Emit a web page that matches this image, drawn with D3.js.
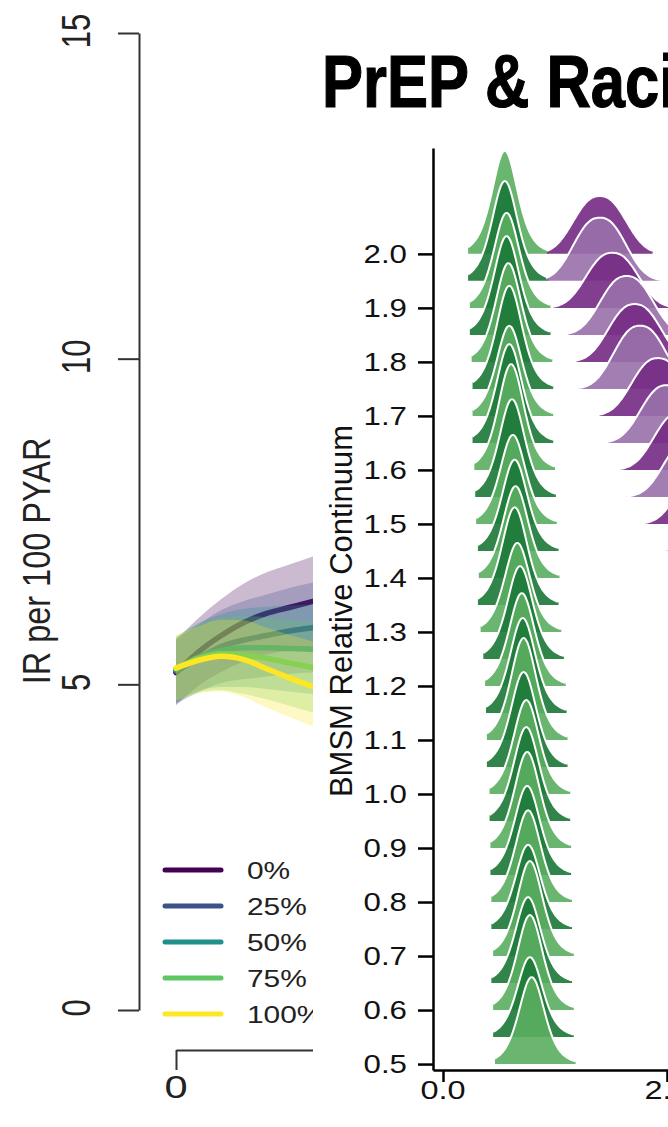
<!DOCTYPE html>
<html><head><meta charset="utf-8">
<script src="https://cdn.jsdelivr.net/npm/d3@7"></script>
<style>
html,body{margin:0;padding:0;background:#fff;}
svg{display:block;}
text{font-family:"Liberation Sans",Arial,Helvetica,sans-serif;}
</style></head>
<body>
<svg id="chart" width="668" height="1127"></svg>
<script>
// ---------- Background chart data (IR per 100 PYAR) ----------
const years = [0, 0.5, 1, 1.5, 2, 2.5, 3, 3.5];
const scenarioLabels = ["0%", "25%", "50%", "75%", "100%"];
const scenarioColors = ["#440154", "#3b528b", "#21908d", "#5dc863", "#fde725"];
const ir0   = [5.18, 5.50, 5.75, 5.95, 6.09, 6.18, 6.27, 6.36];
const ir25  = [5.20, 5.40, 5.58, 5.68, 5.75, 5.82, 5.87, 5.92];
const ir50  = [5.22, 5.42, 5.52, 5.56, 5.56, 5.55, 5.54, 5.53];
const ir75  = [5.24, 5.40, 5.47, 5.45, 5.40, 5.33, 5.26, 5.20];
const ir100 = [5.25, 5.37, 5.43, 5.38, 5.24, 5.10, 4.97, 4.85];
const lo0   = [4.68, 4.98, 5.19, 5.35, 5.46, 5.52, 5.58, 5.64];
const hi0   = [5.68, 6.02, 6.31, 6.55, 6.72, 6.84, 6.96, 7.08];
const lo25  = [4.70, 4.88, 5.02, 5.08, 5.12, 5.16, 5.18, 5.20];
const hi25  = [5.70, 5.92, 6.14, 6.28, 6.38, 6.48, 6.56, 6.64];
const lo50  = [4.72, 4.90, 4.96, 4.96, 4.93, 4.89, 4.85, 4.81];
const hi50  = [5.72, 5.94, 6.08, 6.16, 6.19, 6.21, 6.23, 6.25];
const lo75  = [4.74, 4.88, 4.91, 4.85, 4.77, 4.67, 4.57, 4.48];
const hi75  = [5.74, 5.92, 6.03, 6.05, 6.03, 5.99, 5.95, 5.92];
const lo100 = [4.75, 4.86, 4.89, 4.80, 4.64, 4.50, 4.36, 4.22];
const hi100 = [5.75, 5.89, 5.99, 5.98, 5.87, 5.76, 5.66, 5.57];
const irTicks = [0, 5, 10, 15];
const yearTicks = [0];

// ---------- Ridgeline data ----------
const title = "PrEP & Racial Disparities";
const levels = [2.0,1.95,1.9,1.85,1.8,1.75,1.7,1.65,1.6,1.55,1.5,1.45,1.4,1.35,1.3,1.25,1.2,1.15,1.1,1.05,1.0,0.95,0.9,0.85,0.8,0.75,0.7,0.65,0.6,0.55,0.5];
const greenPeak = [0.69,0.69,0.71,0.71,0.73,0.74,0.74,0.74,0.76,0.77,0.78,0.80,0.81,0.80,0.83,0.86,0.88,0.89,0.90,0.90,0.93,0.93,0.94,0.94,0.95,0.95,0.97,0.95,0.97,0.97,0.99];
const greenHeight = [.191,.185,.176,.183,.183,.191,.167,.183,.196,.181,.165,.169,.170,.181,.165,.172,.172,.176,.189,.176,.174,.174,.178,.165,.170,.156,.176,.159,.176,.148,.161];
const purplePeak = [1.75,1.75,1.89,2.05,2.14,2.20,2.40,2.50,2.65,2.76,2.92,3.15];
const purpleHeight = [.107,.117,.102,.109,.107,.117,.107,.107,.107,.107,.107,.107];
const purpleMin = [1.16,1.15,1.23,1.25,1.38,1.51,1.64,1.81,1.84,2.05,2.19,2.42];
const purpleMax = [2.34,2.60,2.70,2.85,2.95,3.00,3.20,3.30,3.45,3.55,3.70,3.95];
const continuumTicks = [0.5,0.6,0.7,0.8,0.9,1.0,1.1,1.2,1.3,1.4,1.5,1.6,1.7,1.8,1.9,2.0];
const xTicksR = [0, 2.5];
const greenColors = ["#5aae61", "#1b7837"];
const purpleColors = ["#762a83", "#9970ab"];

const svg = d3.select("#chart");
const SX = 1.3;

// ================= Background chart =================
const yB = d3.scaleLinear().domain([0, 15]).range([1010, 33]);
const xB = d3.scaleLinear().domain([0, 10]).range([176, 629]);

const gB = svg.append("g");
const yAxB = gB.append("g").attr("transform", "translate(139,0)")
  .call(d3.axisLeft(yB).tickValues(irTicks).tickSize(21).tickSizeOuter(0).tickFormat(""));
yAxB.selectAll("path,line").attr("stroke", "#333").attr("stroke-width", 2);
gB.selectAll("text.ytB").data(irTicks).join("text")
  .attr("transform", d => `translate(90,${yB(d) - 2}) scale(${SX},1) rotate(-90)`)
  .attr("text-anchor", "middle").attr("font-size", 31).attr("fill", "#222").text(d => d);
gB.append("text")
  .attr("transform", `translate(50,561) scale(1.2,1) rotate(-90)`)
  .attr("text-anchor", "middle").attr("font-size", 32.5).attr("fill", "#222").text("IR per 100 PYAR");

const xAxB = gB.append("g").attr("transform", "translate(0,1050)")
  .call(d3.axisBottom(xB).tickValues(yearTicks).tickSize(20).tickSizeOuter(0).tickFormat(""));
xAxB.selectAll("path,line").attr("stroke", "#333").attr("stroke-width", 2);
gB.selectAll("text.xtB").data(yearTicks).join("text")
  .attr("transform", d => `translate(${xB(d)},1098) scale(${SX},1)`)
  .attr("text-anchor", "middle").attr("font-size", 32).attr("fill", "#222").text(d => d);

const mids = [ir0, ir25, ir50, ir75, ir100];
const los = [lo0, lo25, lo50, lo75, lo100];
const his = [hi0, hi25, hi50, hi75, hi100];
const area = d3.area().x((d, i) => xB(years[i])).y0(d => yB(d[0])).y1(d => yB(d[1])).curve(d3.curveMonotoneX);
const line = d3.line().x((d, i) => xB(years[i])).y(d => yB(d)).curve(d3.curveMonotoneX);
mids.forEach((m, k) => {
  const band = years.map((t, i) => [los[k][i], his[k][i]]);
  gB.append("path").attr("d", area(band)).attr("fill", scenarioColors[k]).attr("fill-opacity", 0.27);
  gB.append("path").attr("d", line(m)).attr("fill", "none").attr("stroke", scenarioColors[k])
    .attr("stroke-width", 5.5).attr("stroke-linecap", "round");
});

// legend
const legY = d3.scaleBand().domain(scenarioLabels).range([852, 1032]);
scenarioLabels.forEach((lab, k) => {
  const y = legY(lab) + legY.bandwidth() / 2;
  gB.append("line").attr("x1", 165).attr("x2", 221).attr("y1", y).attr("y2", y)
    .attr("stroke", scenarioColors[k]).attr("stroke-width", 5).attr("stroke-linecap", "round");
  gB.append("text").attr("transform", `translate(247,${y + 8.5}) scale(${SX},1)`)
    .attr("font-size", 23).attr("fill", "#222").text(lab);
});

// ================= Foreground ridgeline panel =================
const gF = svg.append("g");
gF.append("rect").attr("x", 313).attr("y", 0).attr("width", 668 - 313).attr("height", 1127).attr("fill", "#fff");

gF.append("text").attr("transform", "translate(322,107) scale(0.82,1)")
  .attr("font-size", 75).attr("font-weight", "bold").attr("fill", "#000")
  .attr("stroke", "#000").attr("stroke-width", 1.2).text(title);

const yR = d3.scaleLinear().domain([0.489, 2.196]).range([1070, 148]);
const xR = d3.scaleLinear().domain([-0.1116, 2.9]).range([433, 702.8]);

// ridges
const tShape = u => Math.pow(1 + u * u / 5, -3);
const gShape = u => Math.exp(-0.5 * Math.pow(Math.abs(u), 2.4));
const ridgeG = gF.append("g");
function drawRidge(mean, spread, lo, hi, height, base, shape, color) {
  const n = 90;
  const pts = d3.range(n + 1).map(j => {
    const x = lo + (hi - lo) * j / n;
    return [x, height * shape((x - mean) / spread)];
  });
  const ar = d3.area().x(d => xR(d[0])).y0(yR(base)).y1(d => yR(base + d[1])).curve(d3.curveBasis);
  const ln = d3.line().x(d => xR(d[0])).y(d => yR(base + d[1])).curve(d3.curveBasis);
  ridgeG.append("path").attr("d", ar(pts)).attr("fill", color).attr("fill-opacity", 0.9);
  ridgeG.append("path").attr("d", ln(pts)).attr("fill", "none").attr("stroke", "#fff").attr("stroke-width", 2);
}
levels.forEach((lv, i) => {
  drawRidge(greenPeak[i], 0.15, greenPeak[i] - 0.41, greenPeak[i] + 0.49, greenHeight[i], lv, tShape, greenColors[i % 2]);
  if (i < purplePeak.length) {
    drawRidge(purplePeak[i], 0.28, purpleMin[i], purpleMax[i], purpleHeight[i], lv, gShape, purpleColors[i % 2]);
  }
});

// axes
const yAxR = gF.append("g").attr("transform", "translate(433,0)")
  .call(d3.axisLeft(yR).tickValues(continuumTicks).tickSize(15).tickSizeOuter(0).tickFormat(""));
yAxR.selectAll("path,line").attr("stroke", "#000").attr("stroke-width", 2.5);
gF.selectAll("text.ytR").data(continuumTicks).join("text")
  .attr("transform", d => `translate(407,${yR(d) + 9}) scale(1.25,1)`)
  .attr("text-anchor", "end").attr("font-size", 25).attr("fill", "#111").text(d => d.toFixed(1));
const xAxR = gF.append("g").attr("transform", "translate(0,1070)")
  .call(d3.axisBottom(xR).tickValues(xTicksR).tickSize(12).tickSizeOuter(0).tickFormat(""));
xAxR.selectAll("path,line").attr("stroke", "#000").attr("stroke-width", 2.5);
gF.selectAll("text.xtR").data(xTicksR).join("text")
  .attr("transform", d => `translate(${xR(d)},1099) scale(1.25,1)`)
  .attr("text-anchor", "middle").attr("font-size", 26).attr("fill", "#111").text(d => d.toFixed(1));
gF.append("text").attr("transform", `translate(352,611) rotate(-90)`)
  .attr("text-anchor", "middle").attr("font-size", 31).attr("fill", "#111").text("BMSM Relative Continuum");
</script>
</body></html>
